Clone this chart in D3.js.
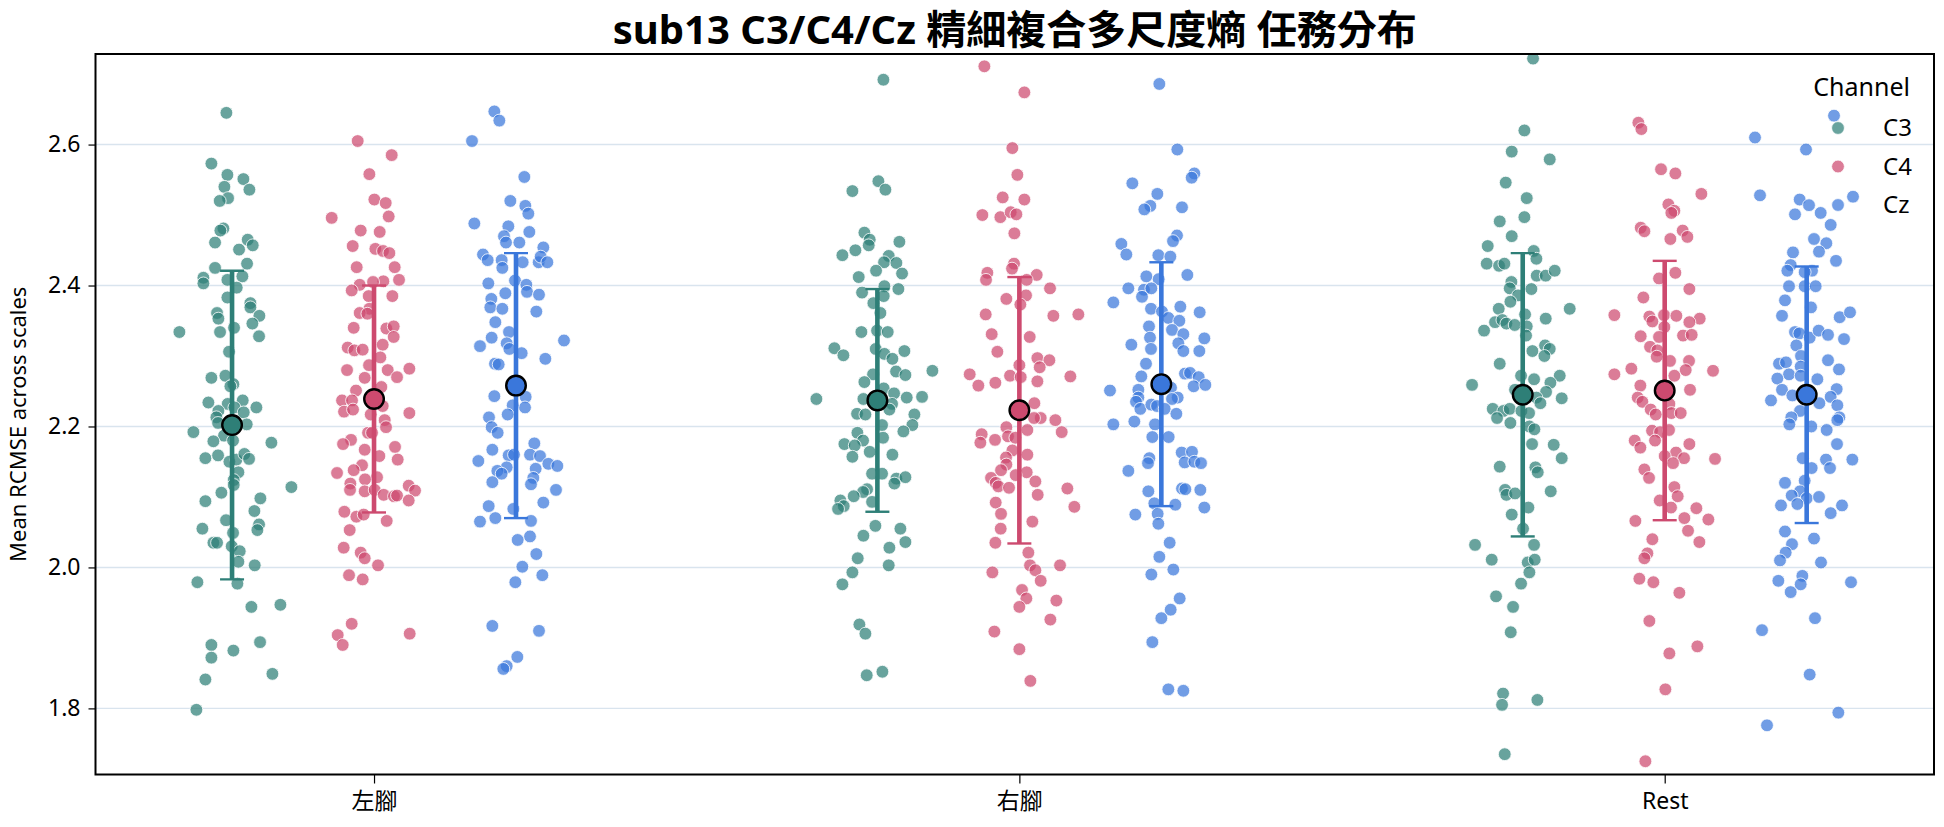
<!DOCTYPE html>
<html>
<head>
<meta charset="utf-8">
<script src="https://cdn.jsdelivr.net/npm/d3@7"></script>
<style>
  body { margin: 0; background: #fff; }
  svg text { font-family: "Noto Sans", "Noto Sans CJK TC", sans-serif; fill: #000; }
</style>
</head>
<body>
<svg id="chart" width="1944" height="827"></svg>
<script>
// ---- data ----
const categories = ["左腳", "右腳", "Rest"];
const channels = ["C3", "C4", "Cz"];
const titleText = "sub13 C3/C4/Cz 精細複合多尺度熵 任務分布";
const yLabelText = "Mean RCMSE across scales";
const yTicks = [1.8, 2.0, 2.2, 2.4, 2.6];

// mean and SD per [category][channel]
const meanVals = [[2.202, 2.239, 2.258], [2.237, 2.223, 2.260], [2.245, 2.251, 2.245]];
const sdVals = [[0.219, 0.161, 0.188], [0.158, 0.189, 0.173], [0.201, 0.184, 0.182]];

// points: [value, jitter] ; jitter in 1/1936 of a category step
const left_C3 = [[2.645,-17],[2.573,-62],[2.557,-14],[2.551,34],[2.540,-23],[2.536,52],[2.524,-12],[2.520,-37],[2.481,-26],[2.478,-35],[2.461,-51],[2.465,47],[2.457,62],[2.451,21],[2.431,45],[2.425,-51],[2.413,31],[2.411,-86],[2.403,-86],[2.408,-14],[2.397,14],[2.383,-14],[2.375,55],[2.369,55],[2.361,-45],[2.353,-41],[2.357,82],[2.340,6],[2.346,61],[2.334,-158],[2.334,-36],[2.328,81],[2.306,-9],[2.269,-62],[2.272,-20],[2.260,4],[2.257,-5],[2.234,-71],[2.232,-13],[2.237,32],[2.227,7],[2.220,35],[2.222,-41],[2.227,73],[2.213,-47],[2.205,-42],[2.203,44],[2.192,-116],[2.187,-24],[2.179,-56],[2.180,3],[2.177,118],[2.155,-80],[2.159,-42],[2.150,-8],[2.153,13],[2.161,37],[2.154,51],[2.135,19],[2.124,5],[2.117,5],[2.114,178],[2.106,-32],[2.098,85],[2.094,-80],[2.080,67],[2.067,-18],[2.061,81],[2.053,76],[2.055,-89],[2.049,3],[2.035,-56],[2.035,-45],[2.030,-1],[2.023,23],[2.008,19],[2.003,68],[1.979,-104],[1.977,16],[1.944,58],[1.947,145],[1.890,-62],[1.894,84],[1.882,4],[1.872,-62],[1.849,121],[1.841,-80],[1.798,-107]];
const left_C4 = [[2.605,-49],[2.585,53],[2.558,-14],[2.522,1],[2.517,35],[2.496,-127],[2.498,44],[2.478,-40],[2.476,17],[2.456,-64],[2.452,4],[2.449,27],[2.446,46],[2.426,-52],[2.426,62],[2.408,75],[2.406,28],[2.405,-3],[2.401,-43],[2.393,-67],[2.385,-16],[2.385,55],[2.367,-14],[2.361,-43],[2.360,-20],[2.340,-61],[2.339,37],[2.342,59],[2.327,59],[2.316,26],[2.312,-79],[2.308,-59],[2.309,-34],[2.298,19],[2.287,-15],[2.280,-81],[2.280,41],[2.282,106],[2.270,69],[2.269,-28],[2.256,22],[2.251,-54],[2.237,-96],[2.237,-66],[2.221,-90],[2.224,-63],[2.229,26],[2.217,-10],[2.209,32],[2.219,106],[2.199,36],[2.191,-18],[2.191,-6],[2.181,-69],[2.175,-93],[2.171,63],[2.167,-28],[2.158,16],[2.153,71],[2.145,-36],[2.134,-111],[2.138,-61],[2.128,9],[2.125,-27],[2.119,-71],[2.116,104],[2.110,-72],[2.108,-28],[2.110,2],[2.103,29],[2.101,60],[2.102,69],[2.109,123],[2.095,104],[2.079,-89],[2.072,-53],[2.075,-31],[2.066,38],[2.053,-73],[2.028,-91],[2.021,-40],[2.013,-28],[2.003,12],[1.989,-75],[1.983,-34],[1.920,-67],[1.904,-109],[1.906,107],[1.890,-94]];
const left_Cz = [[2.647,-65],[2.634,-50],[2.605,-132],[2.554,25],[2.520,-17],[2.513,28],[2.502,37],[2.488,-125],[2.484,-23],[2.476,40],[2.470,-36],[2.461,-30],[2.461,10],[2.444,-99],[2.436,-85],[2.436,-43],[2.425,-41],[2.433,20],[2.433,68],[2.454,82],[2.441,74],[2.433,94],[2.407,-3],[2.403,-83],[2.401,31],[2.391,33],[2.389,-32],[2.387,69],[2.381,-74],[2.369,-77],[2.367,-41],[2.363,61],[2.348,-62],[2.334,-21],[2.326,-73],[2.322,144],[2.314,-108],[2.318,-28],[2.310,-20],[2.304,17],[2.296,88],[2.289,-63],[2.288,-52],[2.243,-65],[2.242,29],[2.227,27],[2.230,-10],[2.217,-25],[2.213,-81],[2.199,-73],[2.191,-55],[2.167,-71],[2.176,55],[2.159,-22],[2.160,-6],[2.160,42],[2.158,72],[2.151,-113],[2.147,97],[2.144,124],[2.140,59],[2.142,-28],[2.137,-56],[2.133,-43],[2.127,52],[2.121,-71],[2.118,45],[2.110,120],[2.087,-82],[2.092,82],[2.083,-8],[2.065,-108],[2.070,-62],[2.066,45],[2.044,42],[2.039,5],[2.019,61],[2.001,19],[1.989,79],[1.979,-2],[1.917,-71],[1.910,69],[1.873,4],[1.860,-28],[1.856,-38]];
const right_C3 = [[2.692,18],[2.534,-75],[2.548,3],[2.536,24],[2.475,-39],[2.465,-23],[2.457,-26],[2.462,66],[2.443,-105],[2.450,-66],[2.442,34],[2.433,20],[2.432,57],[2.421,-4],[2.417,74],[2.412,-56],[2.399,21],[2.395,63],[2.390,-46],[2.385,19],[2.375,-12],[2.361,9],[2.334,-48],[2.336,-1],[2.334,31],[2.311,-129],[2.301,-102],[2.310,-5],[2.303,21],[2.307,81],[2.296,45],[2.278,56],[2.273,84],[2.279,165],[2.274,-13],[2.263,-39],[2.254,19],[2.247,50],[2.239,-183],[2.239,-42],[2.241,88],[2.242,134],[2.232,44],[2.224,36],[2.218,-61],[2.217,-36],[2.217,111],[2.202,105],[2.202,14],[2.193,78],[2.191,-60],[2.184,17],[2.175,-99],[2.180,-43],[2.173,-68],[2.164,-23],[2.157,-75],[2.160,45],[2.133,-16],[2.133,14],[2.126,57],[2.128,84],[2.119,51],[2.111,-31],[2.107,-43],[2.101,-71],[2.095,-111],[2.087,-101],[2.083,-118],[2.093,-16],[2.059,-6],[2.045,-42],[2.055,69],[2.036,84],[2.028,36],[2.013,-59],[2.003,34],[1.993,-75],[1.976,-105],[1.919,-54],[1.906,-36],[1.847,-32],[1.852,15]];
const right_C4 = [[2.711,-105],[2.674,15],[2.595,-21],[2.557,-6],[2.525,-50],[2.522,15],[2.500,-111],[2.497,-57],[2.504,-26],[2.501,-9],[2.474,-15],[2.431,-16],[2.424,-22],[2.418,-96],[2.408,-100],[2.415,52],[2.408,22],[2.396,92],[2.381,-39],[2.386,20],[2.373,3],[2.359,-101],[2.357,102],[2.359,177],[2.331,-83],[2.327,31],[2.306,-66],[2.297,54],[2.294,90],[2.284,61],[2.287,0],[2.274,-149],[2.272,-28],[2.270,4],[2.271,153],[2.262,-72],[2.264,54],[2.258,-123],[2.233,45],[2.212,64],[2.209,108],[2.212,44],[2.192,127],[2.189,-113],[2.177,-117],[2.181,-73],[2.199,-39],[2.195,24],[2.186,-34],[2.184,-12],[2.166,-21],[2.160,24],[2.156,-40],[2.146,-39],[2.138,-55],[2.135,22],[2.131,-11],[2.127,-85],[2.120,-71],[2.115,-63],[2.113,-31],[2.122,48],[2.103,55],[2.112,144],[2.086,165],[2.092,-71],[2.076,-55],[2.065,39],[2.055,-56],[2.035,-72],[2.021,27],[2.003,32],[1.996,48],[1.981,64],[2.003,122],[1.993,-81],[1.968,8],[1.956,21],[1.944,0],[1.953,111],[1.926,93],[1.909,-75],[1.884,0],[1.839,33]];
const right_Cz = [[2.686,-6],[2.593,48],[2.559,99],[2.553,91],[2.545,-87],[2.530,-12],[2.513,-33],[2.508,-51],[2.511,62],[2.471,47],[2.463,35],[2.459,-120],[2.444,-105],[2.443,-9],[2.441,27],[2.415,78],[2.413,-45],[2.409,-8],[2.396,-99],[2.394,-52],[2.396,-30],[2.384,-58],[2.376,-144],[2.367,-31],[2.363,2],[2.370,57],[2.362,115],[2.354,21],[2.350,54],[2.342,-37],[2.337,32],[2.331,66],[2.325,129],[2.326,-34],[2.316,-90],[2.318,51],[2.310,-31],[2.307,66],[2.307,114],[2.289,-46],[2.275,71],[2.276,86],[2.270,112],[2.271,-60],[2.257,97],[2.259,132],[2.251,-154],[2.252,-69],[2.241,-69],[2.255,29],[2.241,49],[2.239,32],[2.235,-76],[2.225,-63],[2.231,-30],[2.229,-13],[2.225,10],[2.218,45],[2.203,-144],[2.207,-81],[2.203,-19],[2.185,-27],[2.185,22],[2.155,-36],[2.148,-40],[2.163,61],[2.164,92],[2.149,70],[2.150,99],[2.148,119],[2.137,-99],[2.108,-39],[2.112,62],[2.111,72],[2.110,117],[2.091,-21],[2.089,42],[2.085,129],[2.075,-78],[2.076,-11],[2.062,-9],[2.035,25],[2.015,-6],[1.997,36],[1.990,-30],[1.956,55],[1.940,28],[1.928,0],[1.894,-27],[1.827,21],[1.825,66]];
const rest_C3 = [[2.722,31],[2.620,5],[2.590,-33],[2.579,81],[2.546,-51],[2.524,12],[2.491,-69],[2.497,5],[2.470,-33],[2.456,-105],[2.431,-108],[2.428,-71],[2.431,-55],[2.449,33],[2.438,41],[2.414,42],[2.414,69],[2.421,96],[2.405,-34],[2.396,-39],[2.395,26],[2.386,-14],[2.377,-37],[2.367,-72],[2.367,141],[2.348,-83],[2.351,-61],[2.346,-49],[2.344,-24],[2.359,7],[2.342,12],[2.336,-116],[2.353,69],[2.329,10],[2.307,29],[2.315,67],[2.310,81],[2.300,65],[2.289,-69],[2.272,-5],[2.267,34],[2.272,111],[2.262,83],[2.259,-152],[2.252,-23],[2.249,70],[2.241,41],[2.233,53],[2.240,117],[2.225,-90],[2.222,-58],[2.225,-39],[2.212,-77],[2.205,-37],[2.222,-4],[2.219,19],[2.200,20],[2.196,35],[2.175,28],[2.174,93],[2.155,117],[2.143,-69],[2.142,38],[2.135,45],[2.110,-53],[2.103,-49],[2.105,-23],[2.108,84],[2.085,17],[2.075,-33],[2.055,1],[2.032,-143],[2.032,34],[2.011,-93],[2.007,15],[2.011,36],[1.993,20],[1.977,-5],[1.959,-80],[1.944,-29],[1.908,-36],[1.821,-59],[1.805,-62],[1.812,44],[1.735,-54]];
const rest_C4 = [[2.631,-79],[2.622,-70],[2.565,-11],[2.559,32],[2.530,110],[2.515,11],[2.506,29],[2.503,20],[2.482,-72],[2.477,-61],[2.478,54],[2.469,68],[2.466,17],[2.418,32],[2.410,-17],[2.395,74],[2.383,-64],[2.358,-151],[2.356,-46],[2.358,-2],[2.357,35],[2.353,105],[2.349,-37],[2.348,74],[2.341,-1],[2.328,-72],[2.327,-17],[2.329,55],[2.330,81],[2.313,-44],[2.308,-22],[2.299,-24],[2.293,16],[2.293,73],[2.280,63],[2.282,-100],[2.274,-151],[2.279,145],[2.272,29],[2.258,-73],[2.252,76],[2.241,-81],[2.235,-67],[2.232,14],[2.224,-42],[2.217,-27],[2.219,20],[2.219,48],[2.194,-38],[2.192,-14],[2.195,13],[2.180,-29],[2.180,-90],[2.170,-73],[2.175,74],[2.163,34],[2.158,0],[2.155,58],[2.148,25],[2.154,151],[2.139,-61],[2.127,-47],[2.114,29],[2.101,39],[2.095,-15],[2.085,19],[2.084,95],[2.070,59],[2.068,131],[2.066,-88],[2.052,70],[2.040,-37],[2.036,104],[2.020,-52],[2.013,-61],[1.984,-76],[1.979,-34],[1.964,44],[1.924,-46],[1.888,98],[1.878,14],[1.827,2],[1.725,-58]];
const rest_Cz = [[2.641,82],[2.610,-155],[2.593,-2],[2.528,-140],[2.526,139],[2.522,-21],[2.514,7],[2.501,-35],[2.503,42],[2.486,72],[2.466,22],[2.460,59],[2.448,37],[2.447,-41],[2.435,88],[2.429,-48],[2.421,-58],[2.421,16],[2.419,-6],[2.399,-53],[2.399,-6],[2.399,27],[2.379,-65],[2.369,13],[2.357,-74],[2.355,99],[2.362,130],[2.334,-35],[2.332,-22],[2.326,9],[2.336,36],[2.330,64],[2.324,112],[2.315,-31],[2.300,-17],[2.294,64],[2.289,-83],[2.291,-62],[2.285,-18],[2.281,97],[2.274,-53],[2.268,-88],[2.267,32],[2.272,-18],[2.253,90],[2.252,-74],[2.237,-107],[2.244,-43],[2.242,72],[2.233,38],[2.230,92],[2.222,-20],[2.213,-46],[2.213,98],[2.203,-52],[2.200,14],[2.195,60],[2.209,92],[2.175,91],[2.155,-12],[2.153,58],[2.141,70],[2.141,15],[2.153,137],[2.120,-65],[2.123,-6],[2.108,-20],[2.102,-45],[2.098,0],[2.100,37],[2.088,-77],[2.090,-28],[2.088,106],[2.077,72],[2.051,-65],[2.041,22],[2.033,-44],[2.021,-63],[2.010,-80],[2.007,43],[1.988,-13],[1.976,-18],[1.981,-85],[1.965,-48],[1.979,133],[1.928,25],[1.911,-134],[1.848,9],[1.794,95],[1.776,-119]];

const groups = [
  [left_C3, left_C4, left_Cz],
  [right_C3, right_C4, right_Cz],
  [rest_C3, rest_C4, rest_Cz]
];

// ---- layout / style ----
const plot = { left: 95.5, right: 1934, top: 54, bottom: 774.5 };
const colors = { C3: "#2e7f77", C4: "#cd4a6f", Cz: "#3a77db" };
const dodge = 0.22;
const jitUnit = 1 / 1936;
const fontStack = '"Noto Sans", "Noto Sans CJK TC", sans-serif';

const svg = d3.select("#chart");

const x = d3.scaleLinear().domain([-0.4316, 2.4173]).range([plot.left, plot.right]);
const y = d3.scaleLinear().domain([1.7062, 2.7285]).range([plot.bottom, plot.top]);

svg.append("defs").append("clipPath").attr("id", "clip")
  .append("rect")
  .attr("x", plot.left).attr("y", plot.top)
  .attr("width", plot.right - plot.left).attr("height", plot.bottom - plot.top);

// gridlines
svg.append("g").selectAll("line").data(yTicks).join("line")
  .attr("x1", plot.left).attr("x2", plot.right)
  .attr("y1", d => y(d)).attr("y2", d => y(d))
  .attr("stroke", "#d9e4ee").attr("stroke-width", 1.4);

const body = svg.append("g").attr("clip-path", "url(#clip)");

// strip points
groups.forEach((grp, ci) => {
  grp.forEach((pts, hi) => {
    const ch = channels[hi];
    body.append("g").selectAll("circle").data(pts).join("circle")
      .attr("cx", d => x(ci + (hi - 1) * dodge + d[1] * jitUnit))
      .attr("cy", d => y(d[0]))
      .attr("r", 6.4)
      .attr("fill", colors[ch]).attr("fill-opacity", 0.72)
      .attr("stroke", "#fff").attr("stroke-width", 0.8);
  });
});

// error bars (mean +/- SD) and mean markers
groups.forEach((grp, ci) => {
  grp.forEach((pts, hi) => {
    const ch = channels[hi];
    const cx = x(ci + (hi - 1) * dodge);
    const m = meanVals[ci][hi], s = sdVals[ci][hi];
    const g = body.append("g");
    g.append("line")
      .attr("x1", cx).attr("x2", cx)
      .attr("y1", y(m - s)).attr("y2", y(m + s))
      .attr("stroke", colors[ch]).attr("stroke-width", 4.6);
    [m - s, m + s].forEach(v => {
      g.append("line")
        .attr("x1", cx - 12).attr("x2", cx + 12)
        .attr("y1", y(v)).attr("y2", y(v))
        .attr("stroke", colors[ch]).attr("stroke-width", 2.4);
    });
    g.append("circle")
      .attr("cx", cx).attr("cy", y(m)).attr("r", 9.8)
      .attr("fill", colors[ch]).attr("stroke", "#000").attr("stroke-width", 2.4);
  });
});

// frame
svg.append("rect")
  .attr("x", plot.left).attr("y", plot.top)
  .attr("width", plot.right - plot.left).attr("height", plot.bottom - plot.top)
  .attr("fill", "none").attr("stroke", "#000").attr("stroke-width", 2);

// axes
const xAxis = svg.append("g")
  .attr("transform", `translate(0,${plot.bottom})`)
  .call(d3.axisBottom(x).tickValues([0, 1, 2]).tickFormat(i => categories[i]).tickSizeOuter(0).tickSize(9).tickPadding(9));
const yAxis = svg.append("g")
  .attr("transform", `translate(${plot.left},0)`)
  .call(d3.axisLeft(y).tickValues(yTicks).tickFormat(d3.format(".1f")).tickSizeOuter(0).tickSize(7).tickPadding(8));
[xAxis, yAxis].forEach(a => {
  a.select(".domain").remove();
  a.selectAll(".tick line").attr("stroke", "#000").attr("stroke-width", 1.2);
  a.selectAll(".tick text").attr("font-size", 23).attr("fill", "#000")
    .style("font-family", fontStack);
});

// title
svg.append("text")
  .attr("x", (plot.left + plot.right) / 2).attr("y", 44)
  .attr("text-anchor", "middle")
  .attr("font-size", 40).attr("font-weight", "bold")
  .text(titleText);

// y label
svg.append("text")
  .attr("transform", `translate(26,${(plot.top + plot.bottom) / 2 + 10}) rotate(-90)`)
  .attr("text-anchor", "middle")
  .attr("font-size", 22)
  .text(yLabelText);

// legend
const lg = svg.append("g");
lg.append("text").attr("x", 1910).attr("y", 96).attr("text-anchor", "end")
  .attr("font-size", 25).text("Channel");
channels.forEach((ch, i) => {
  const cy = 128 + i * 38.5;
  lg.append("circle").attr("cx", 1838).attr("cy", cy).attr("r", 6.4)
    .attr("fill", colors[ch]).attr("fill-opacity", 0.72)
    .attr("stroke", "#fff").attr("stroke-width", 0.8);
  lg.append("text").attr("x", 1883).attr("y", cy + 8).attr("font-size", 24).text(ch);
});
</script>
</body>
</html>
